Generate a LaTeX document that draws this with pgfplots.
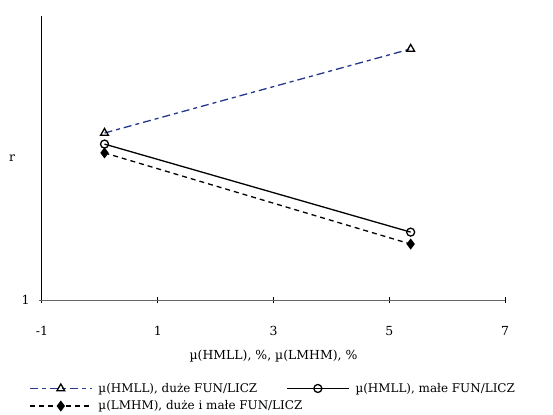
\documentclass[border=0pt]{standalone}
\usepackage{pgfplots}
\pgfplotsset{compat=1.18}
\usepackage{fontspec}
\setmainfont{DejaVu Serif}
\definecolor{serblue}{RGB}{36,56,140}
\begin{document}
\begin{tikzpicture}[x=1bp,y=1bp]
\begin{axis}[
  scale only axis,
  width=463bp, height=284bp,
  xmin=-1, xmax=7, ymin=1, ymax=2,
  axis x line=bottom, axis y line=left,
  axis line style={-, line width=1bp},
  x axis line style={draw=gray!80!black},
  y axis line style={draw=black},
  xtick={-1,1,3,5,7}, ytick={1},
  tick align=center,
  major tick length=6bp,
  xtick style={draw=black, line width=1bp},
  ytick style={draw=gray!80!black, line width=1bp},
  font=\fontsize{12.5}{14}\selectfont,
  ticklabel style={font=\fontsize{12.5}{14}\selectfont},
  /pgf/number format/assume math mode=true,
  xticklabel style={yshift=-20bp},
  yticklabel style={xshift=-6bp},
  xlabel={\textmu(HMLL), \%, \textmu(LMHM), \%},
  xlabel style={yshift=-7bp},
  ylabel={r},
  ylabel style={rotate=-90, at={(rel axis cs:0,0.5)}, anchor=center, xshift=-30bp},
  clip=false,
  legend columns=2,
  legend cell align=left,
  legend style={draw=none, fill=none, at={(rel axis cs:0,0)}, anchor=north west,
    xshift=-16bp, yshift=-79bp, font=\fontsize{12}{13}\selectfont,
    /tikz/every even column/.append style={column sep=27bp},
    /tikz/every odd column/.append style={column sep=4bp},
    row sep=3bp},
  legend image code/.code={\draw[mark repeat=2,mark phase=2] plot coordinates {(0bp,0bp) (31bp,0bp) (62bp,0bp)};},
]
\addplot[serblue, line width=1.3bp, dash pattern=on 8bp off 4bp on 4bp off 4bp, mark=triangle, mark size=4.5bp, mark options={solid, draw=black, fill=white, line width=1.3bp}]
  coordinates {(0.08,1.588) (5.37,1.884)};
\addlegendentry{\textmu(HMLL), duże FUN/LICZ}
\addplot[black, line width=1.3bp, mark=o, mark size=4bp, mark options={solid, fill=white, line width=1.3bp}]
  coordinates {(0.08,1.549) (5.37,1.239)};
\addlegendentry{\textmu(HMLL), małe FUN/LICZ}
\addplot[black, line width=1.3bp, dash pattern=on 5bp off 4bp, mark=diamond*, mark size=4.5bp, mark options={solid, fill=black}]
  coordinates {(0.08,1.518) (5.37,1.197)};
\addlegendentry{\makebox[0pt][l]{\textmu(LMHM), duże i małe FUN/LICZ}}
\end{axis}
\pgfresetboundingbox
\useasboundingbox (-42bp,-115bp) rectangle (511bp,300bp);
\end{tikzpicture}
\end{document}
